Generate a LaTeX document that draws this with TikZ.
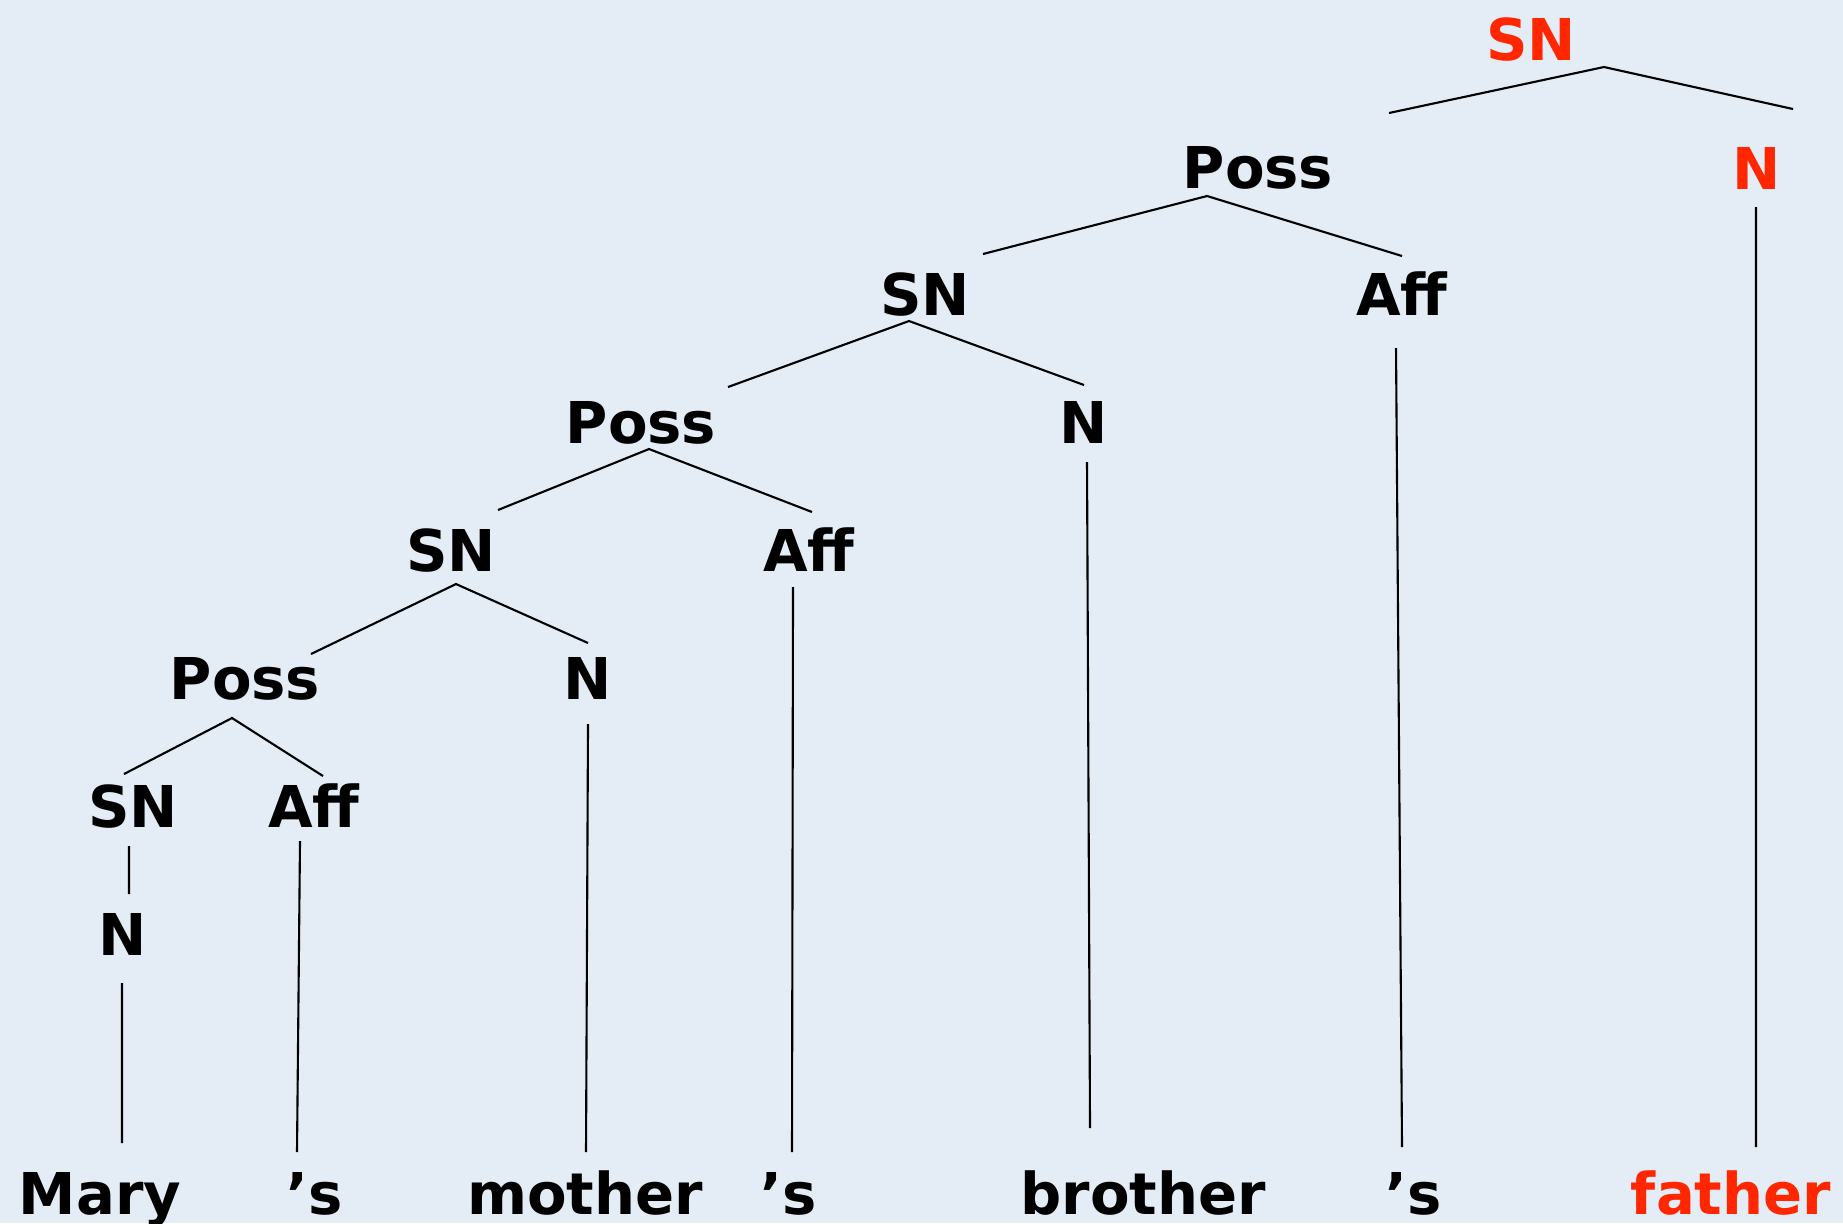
\documentclass[tikz,border=0pt]{standalone}
\usepackage{fontspec}
\setmainfont{DejaVu Sans}

\definecolor{papier}{RGB}{228,236,245}
\definecolor{rouge}{RGB}{255,38,0}

\tikzset{
  cat/.style={font=\fontsize{16.4}{20}\selectfont\bfseries, anchor=base, inner sep=0pt},
  tete/.style={cat, text=rouge},
  branche/.style={line width=0.6pt}
}

\begin{document}
\begin{tikzpicture}

% Fond
\fill[papier] (0,0) rectangle (18.43,-12.23);
\useasboundingbox (0,0) rectangle (18.43,-12.23);

% Catégories
\node[tete] (snR) at (15.31,-0.60) {SN};
\node[cat] (possC) at (12.58,-1.88) {Poss};
\node[tete] (nR) at (17.57,-1.89) {N};
\node[cat] (snB) at (9.25,-3.15) {SN};
\node[cat] (affC) at (14.02,-3.15) {Aff};
\node[cat] (possB) at (6.41,-4.43) {Poss};
\node[cat] (nB) at (10.84,-4.43) {N};
\node[cat] (snA) at (4.51,-5.71) {SN};
\node[cat] (affB) at (8.09,-5.71) {Aff};
\node[cat] (possA) at (2.45,-6.99) {Poss};
\node[cat] (nA) at (5.88,-6.99) {N};
\node[cat] (snM) at (1.33,-8.27) {SN};
\node[cat] (affA) at (3.14,-8.27) {Aff};
\node[cat] (nM) at (1.23,-9.55) {N};

% Mots
\node[cat] (mary) at (1.00,-12.14) {Mary};
\node[cat] (gen1) at (3.15,-12.14) {’s};
\node[cat] (mother) at (5.85,-12.14) {mother};
\node[cat] (gen2) at (7.89,-12.14) {’s};
\node[cat] (brother) at (11.43,-12.14) {brother};
\node[cat] (gen3) at (14.14,-12.14) {’s};
\node[tete] (father) at (17.31,-12.14) {father};

% Branches
\draw[branche] ([shift={(1.31,0.75)}]possC.base) -- ([shift={(0.73,-0.07)}]snR.base) -- ([shift={(0.36,0.80)}]nR.base);
\draw[branche] ([shift={(0.58,0.61)}]snB.base) -- ([shift={(-0.51,-0.08)}]possC.base) -- ([shift={(0,0.59)}]affC.base);
\draw[branche] ([shift={(0.87,0.56)}]possB.base) -- ([shift={(-0.16,-0.06)}]snB.base) -- ([shift={(0,0.58)}]nB.base);
\draw[branche] ([shift={(0.47,0.61)}]snA.base) -- ([shift={(0.08,-0.06)}]possB.base) -- ([shift={(0.03,0.59)}]affB.base);
\draw[branche] ([shift={(0.66,0.45)}]possA.base) -- ([shift={(0.05,-0.13)}]snA.base) -- ([shift={(0,0.56)}]nA.base);
\draw[branche] ([shift={(-0.09,0.53)}]snM.base) -- ([shift={(-0.13,-0.19)}]possA.base) -- ([shift={(0.09,0.51)}]affA.base);
\draw[branche] ([shift={(-0.04,-0.19)}]snM.base) -- ([shift={(0.06,0.61)}]nM.base);

% Lignes vers les mots
\draw[branche] ([shift={(-0.01,-0.28)}]nM.base) -- ([shift={(0.22,0.71)}]mary.base);
\draw[branche] ([shift={(-0.14,-0.14)}]affA.base) -- ([shift={(-0.18,0.62)}]gen1.base);
\draw[branche] ([shift={(0,-0.25)}]nA.base) -- ([shift={(0.01,0.62)}]mother.base);
\draw[branche] ([shift={(-0.16,-0.16)}]affB.base) -- ([shift={(0.03,0.62)}]gen2.base);
\draw[branche] ([shift={(0.03,-0.19)}]nB.base) -- ([shift={(-0.53,0.86)}]brother.base);
\draw[branche] ([shift={(-0.06,-0.33)}]affC.base) -- ([shift={(-0.12,0.67)}]gen3.base);
\draw[branche] ([shift={(-0.01,-0.18)}]nR.base) -- ([shift={(0.25,0.67)}]father.base);

\end{tikzpicture}
\end{document}
